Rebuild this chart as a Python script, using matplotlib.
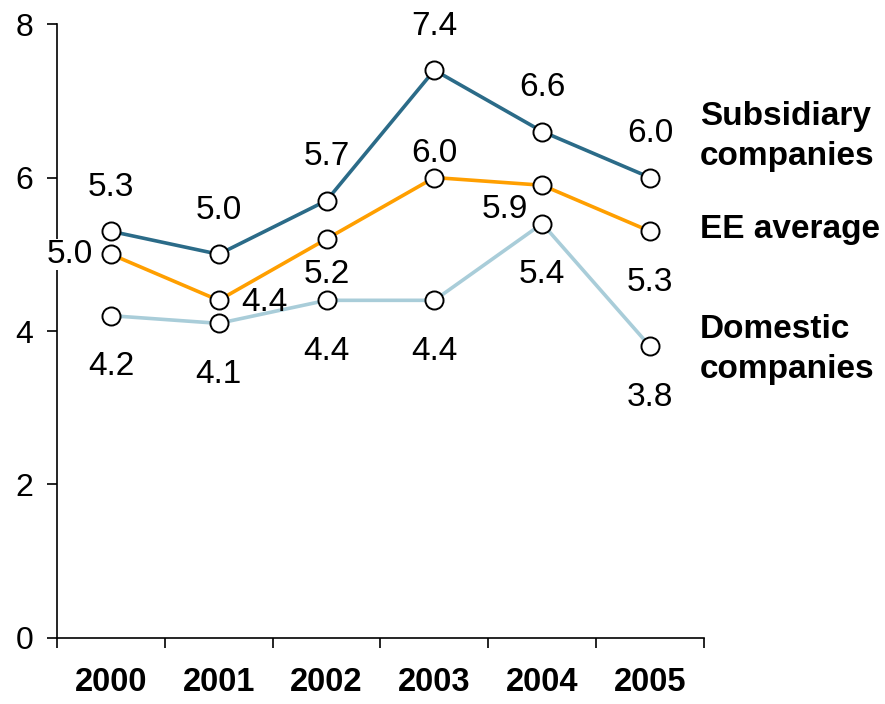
import matplotlib.pyplot as plt

plt.rcParams['font.family'] = ['Liberation Sans', 'DejaVu Sans']

years = ['2000', '2001', '2002', '2003', '2004', '2005']
subsidiary = [5.3, 5.0, 5.7, 7.4, 6.6, 6.0]
ee_average = [5.0, 4.4, 5.2, 6.0, 5.9, 5.3]
domestic = [4.2, 4.1, 4.4, 4.4, 5.4, 3.8]
series_names = ['Subsidiary\ncompanies', 'EE average', 'Domestic\ncompanies']

colors = ['#2b6b88', '#ff9f00', '#a9cdd9']

# label placement per point: (dx, dy in pixels, horizontal alignment)
label_offsets = [
    [(0, 44, 'center')] * 6,
    [(-18, 0, 'right'), (23, -2, 'left'), (0, -36, 'center'),
     (0, 24, 'center'), (-37, -24, 'center'), (0, -51, 'center')],
    [(0, -51, 'center')] * 6,
]
name_offsets = [(50, 41), (50, 2), (50, -3)]

fig = plt.figure(figsize=(8.85, 7.04), dpi=100)
ax = fig.add_axes([0.0644, 0.0938, 0.731, 0.872])

x = range(len(years))
for vals, col, offs, name, noff in zip([subsidiary, ee_average, domestic], colors,
                                       label_offsets, series_names, name_offsets):
    ax.plot(x, vals, color=col, lw=2.6, marker='o', ms=13, mfc='white',
            mec='black', mew=1.4, zorder=3, clip_on=False)
    for xi, v, (dx, dy, ha) in zip(x, vals, offs):
        ax.annotate(f'{v:.1f}', (xi, v), xytext=(dx, dy), textcoords='offset pixels',
                    ha=ha, va='center', fontsize=24, zorder=5, annotation_clip=False,
                    bbox=dict(facecolor='white', edgecolor='none', pad=0) if ha == 'right' else None)
    ax.annotate(name, (x[-1], vals[-1]), xytext=noff, textcoords='offset pixels',
                ha='left', va='center', fontsize=24, fontweight='bold',
                linespacing=1.35, annotation_clip=False)

ax.set_xlim(-0.5, 5.5)
ax.set_ylim(0, 8)
ax.set_yticks([0, 2, 4, 6, 8])
ax.set_xticks([i - 0.5 for i in range(len(years) + 1)])
ax.set_xticklabels([])
ax.set_xticks(list(x), minor=True)
ax.set_xticklabels(years, minor=True, fontsize=23.5, fontweight='bold')
ax.tick_params(axis='x', which='major', direction='out', length=7, width=1.2)
ax.tick_params(axis='x', which='minor', length=0, pad=21)
ax.tick_params(axis='y', direction='out', length=7, width=1.2, labelsize=23, pad=10)

for s in ['top', 'right']:
    ax.spines[s].set_visible(False)
for s in ['left', 'bottom']:
    ax.spines[s].set_linewidth(1.2)

fig.savefig('out.png', dpi=100)
